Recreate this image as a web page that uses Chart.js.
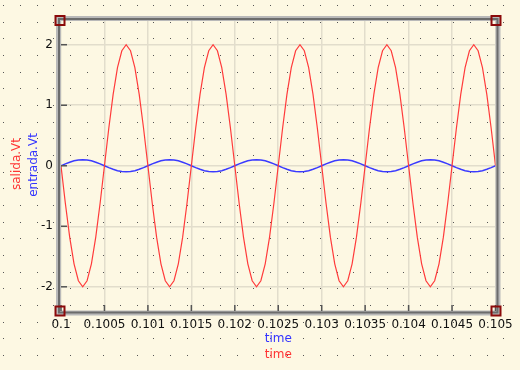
<!DOCTYPE html>
<html><head><meta charset="utf-8">
<script src="https://cdn.jsdelivr.net/npm/chart.js@4/dist/chart.umd.min.js"></script>
<style>html,body{margin:0;padding:0;background:#fdf8e3;}#wrap{width:520px;height:370px;}</style>
</head><body><div id="wrap"><canvas id="c" width="520" height="370"></canvas></div>
<script>
const time = [0.1,0.10005,0.1001,0.10015,0.1002,0.10025,0.1003,0.10035,0.1004,0.10045,
0.1005,0.10055,0.1006,0.10065,0.1007,0.10075,0.1008,0.10085,0.1009,0.10095,
0.101,0.10105,0.1011,0.10115,0.1012,0.10125,0.1013,0.10135,0.1014,0.10145,
0.1015,0.10155,0.1016,0.10165,0.1017,0.10175,0.1018,0.10185,0.1019,0.10195,
0.102,0.10205,0.1021,0.10215,0.1022,0.10225,0.1023,0.10235,0.1024,0.10245,
0.1025,0.10255,0.1026,0.10265,0.1027,0.10275,0.1028,0.10285,0.1029,0.10295,
0.103,0.10305,0.1031,0.10315,0.1032,0.10325,0.1033,0.10335,0.1034,0.10345,
0.1035,0.10355,0.1036,0.10365,0.1037,0.10375,0.1038,0.10385,0.1039,0.10395,
0.104,0.10405,0.1041,0.10415,0.1042,0.10425,0.1043,0.10435,0.1044,0.10445,
0.1045,0.10455,0.1046,0.10465,0.1047,0.10475,0.1048,0.10485,0.1049,0.10495,0.105];
const salidaVt = [0,-0.62,-1.18,-1.62,-1.9,-2,-1.9,-1.62,-1.18,-0.62,0,0.62,1.18,1.62,1.9,2,1.9,1.62,1.18,0.62,
0,-0.62,-1.18,-1.62,-1.9,-2,-1.9,-1.62,-1.18,-0.62,0,0.62,1.18,1.62,1.9,2,1.9,1.62,1.18,0.62,
0,-0.62,-1.18,-1.62,-1.9,-2,-1.9,-1.62,-1.18,-0.62,0,0.62,1.18,1.62,1.9,2,1.9,1.62,1.18,0.62,
0,-0.62,-1.18,-1.62,-1.9,-2,-1.9,-1.62,-1.18,-0.62,0,0.62,1.18,1.62,1.9,2,1.9,1.62,1.18,0.62,
0,-0.62,-1.18,-1.62,-1.9,-2,-1.9,-1.62,-1.18,-0.62,0,0.62,1.18,1.62,1.9,2,1.9,1.62,1.18,0.62,0];
const entradaVt = [0,0.031,0.059,0.081,0.095,0.1,0.095,0.081,0.059,0.031,0,-0.031,-0.059,-0.081,-0.095,-0.1,-0.095,-0.081,-0.059,-0.031,
0,0.031,0.059,0.081,0.095,0.1,0.095,0.081,0.059,0.031,0,-0.031,-0.059,-0.081,-0.095,-0.1,-0.095,-0.081,-0.059,-0.031,
0,0.031,0.059,0.081,0.095,0.1,0.095,0.081,0.059,0.031,0,-0.031,-0.059,-0.081,-0.095,-0.1,-0.095,-0.081,-0.059,-0.031,
0,0.031,0.059,0.081,0.095,0.1,0.095,0.081,0.059,0.031,0,-0.031,-0.059,-0.081,-0.095,-0.1,-0.095,-0.081,-0.059,-0.031,
0,0.031,0.059,0.081,0.095,0.1,0.095,0.081,0.059,0.031,0,-0.031,-0.059,-0.081,-0.095,-0.1,-0.095,-0.081,-0.059,-0.031,0];
const xTickValues = [0.1,0.1005,0.101,0.1015,0.102,0.1025,0.103,0.1035,0.104,0.1045,0.105];
const xTickLabels = ["0.1","0.1005","0.101","0.1015","0.102","0.1025","0.103","0.1035","0.104","0.1045","0.105"];
const yTickValues = [-2,-1,0,1,2];
const yTickLabels = ["-2","-1","0","1","2"];

const FONT = "'DejaVu Sans', sans-serif";
const decor = {
  id:'decor',
  beforeDraw(chart){
    const ctx = chart.ctx;
    ctx.save();
    ctx.fillStyle = '#fdf8e3';
    ctx.fillRect(0,0,chart.width,chart.height);
    ctx.fillStyle = '#555';
    for(let i=0;i<32;i++){
      for(let j=0;j<23;j++){
        const x = Math.round(3.3+16.67*i), y = Math.round(5+16.67*j);
        ctx.fillRect(x,y,1,1);
      }
    }
    ctx.restore();
  },
  beforeDatasetsDraw(chart){
    const ctx = chart.ctx, a = chart.chartArea;
    ctx.save();
    ctx.strokeStyle = '#b9b9b9'; ctx.lineWidth = 5;
    ctx.strokeRect(a.left-2.5, a.top-2, a.right-a.left+5, a.bottom-a.top+4);
    ctx.strokeStyle = '#6c6c6c'; ctx.lineWidth = 2;
    ctx.strokeRect(a.left-2, a.top-1.5, a.right-a.left+4, a.bottom-a.top+3);
    ctx.restore();
  },
  afterDraw(chart){
    const ctx = chart.ctx, a = chart.chartArea;
    const xs = chart.scales.x, ys = chart.scales.y;
    ctx.save();
    // tick marks
    ctx.strokeStyle = '#555'; ctx.lineWidth = 1.5;
    xTickValues.forEach(v=>{const x = xs.getPixelForValue(v); ctx.beginPath(); ctx.moveTo(x,a.bottom); ctx.lineTo(x,a.bottom-6); ctx.stroke();});
    yTickValues.forEach(v=>{const y = ys.getPixelForValue(v); ctx.beginPath(); ctx.moveTo(a.left,y); ctx.lineTo(a.left+6,y); ctx.stroke();});
    // corner squares
    ctx.strokeStyle = '#8b0a0a'; ctx.lineWidth = 2;
    [[a.left-1,a.top],[a.right+0.5,a.top],[a.left-1,a.bottom],[a.right+0.5,a.bottom]].forEach(p=>{
      ctx.strokeRect(p[0]-4.5,p[1]-4.5,9,9);
    });
    // axis titles
    ctx.font = '12px '+FONT;
    ctx.textAlign = 'center'; ctx.textBaseline = 'middle';
    const cx = (a.left+a.right)/2;
    ctx.fillStyle = '#3333ff'; ctx.fillText('time', cx, 339);
    ctx.fillStyle = '#ff3333'; ctx.fillText('time', cx, 355);
    ctx.save(); ctx.translate(17,164); ctx.rotate(-Math.PI/2); ctx.fillStyle='#ff3333'; ctx.fillText('salida.Vt',0,0); ctx.restore();
    ctx.save(); ctx.translate(34,165); ctx.rotate(-Math.PI/2); ctx.fillStyle='#3333ff'; ctx.fillText('entrada.Vt',0,0); ctx.restore();
    ctx.restore();
  }
};

new Chart(document.getElementById('c'), {
  type:'line',
  data:{
    datasets:[
      {label:'salida.Vt', data: time.map((t,i)=>({x:t,y:salidaVt[i]})), borderColor:'#ff3b3b', borderWidth:1.2, pointRadius:0, tension:0},
      {label:'entrada.Vt', data: time.map((t,i)=>({x:t,y:entradaVt[i]})), borderColor:'#3a3aff', borderWidth:1.5, pointRadius:0, tension:0}
    ]
  },
  options:{
    responsive:false, animation:false, events:[],
    layout:{padding:{left:0,top:20.5,right:24.5,bottom:0}},
    plugins:{legend:{display:false}, tooltip:{enabled:false}},
    scales:{
      x:{type:'linear', min:0.1, max:0.105,
        afterBuildTicks(s){ s.ticks = xTickValues.map(v=>({value:v})); },
        afterFit(s){ s.height = 59; },
        grid:{color:'#e2ddcc', lineWidth:1.5, drawTicks:false},
        border:{display:false},
        ticks:{autoSkip:false, maxRotation:0, minRotation:0, padding:7, color:'#111', font:{family:FONT,size:12},
          callback:(v,i)=>xTickLabels[i]}
      },
      y:{type:'linear', min:-2.4, max:2.4,
        afterBuildTicks(s){ s.ticks = yTickValues.map(v=>({value:v})); },
        afterFit(s){ s.width = 61; },
        grid:{color:'#e2ddcc', lineWidth:1.5, drawTicks:false},
        border:{display:false},
        ticks:{padding:8, color:'#111', font:{family:FONT,size:12},
          callback:(v,i)=>yTickLabels[i]}
      }
    }
  },
  plugins:[decor]
});
</script></body></html>
